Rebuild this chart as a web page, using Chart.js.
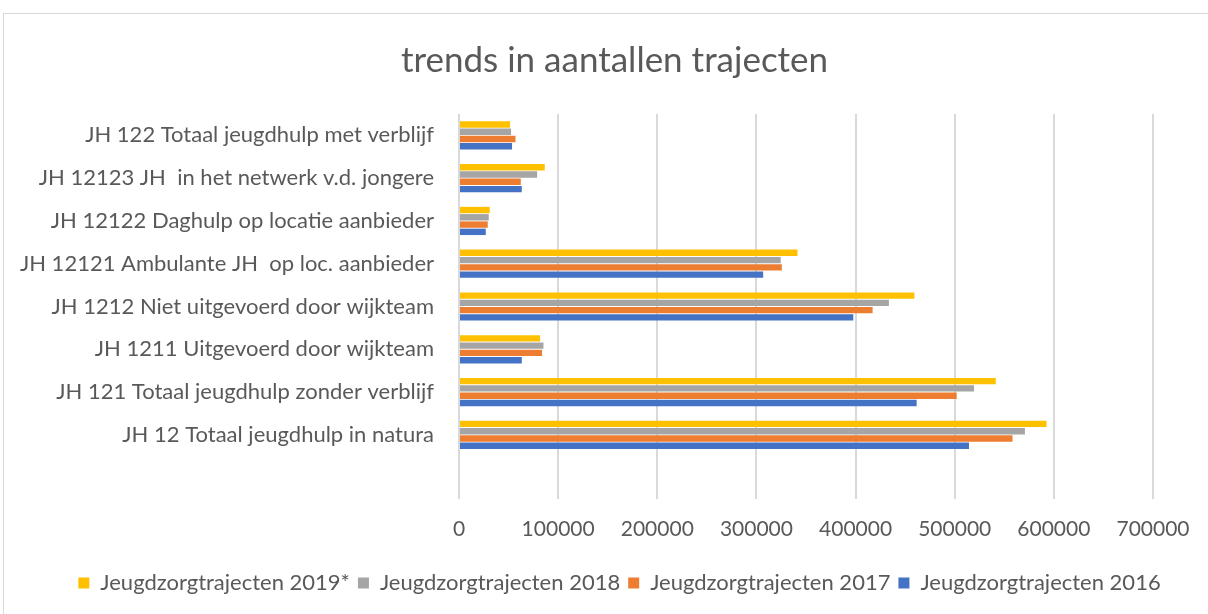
<!DOCTYPE html>
<html>
<head>
<meta charset="utf-8">
<title>trends in aantallen trajecten</title>
<script src="https://cdn.jsdelivr.net/npm/chart.js@4.4.1/dist/chart.umd.min.js"></script>
<style>
    html, body { margin: 0; padding: 0; background: #fff; }
    #wrap { position: relative; width: 1208px; height: 614px; overflow: hidden; }
    #frame { position: absolute; left: 3px; top: 13px; width: 1300px; height: 700px; border: 1px solid #d9d9d9; box-sizing: border-box; }
    #trendChart { position: absolute; left: 0; top: 0; }
</style>
</head>
<body>
<div id="wrap">
    <div id="frame"></div>
    <canvas id="trendChart" width="1208" height="614"></canvas>
</div>
<script>
// categories, top to bottom (last one is the empty row Excel leaves at the bottom)
const categories = [
    'JH 122 Totaal jeugdhulp met verblijf',
    'JH 12123 JH  in het netwerk v.d. jongere',
    'JH 12122 Daghulp op locatie aanbieder',
    'JH 12121 Ambulante JH  op loc. aanbieder',
    'JH 1212 Niet uitgevoerd door wijkteam',
    'JH 1211 Uitgevoerd door wijkteam',
    'JH 121 Totaal jeugdhulp zonder verblijf',
    'JH 12 Totaal jeugdhulp in natura',
    ''
];

const seriesNames = ['Jeugdzorgtrajecten 2019*', 'Jeugdzorgtrajecten 2018', 'Jeugdzorgtrajecten 2017', 'Jeugdzorgtrajecten 2016'];

const trajecten2019 = [51500, 86500, 31000, 341400, 459300, 81800, 541400, 592600, null];
const trajecten2018 = [52500, 78800, 30000, 324500, 433600, 85200, 519500, 570800, null];
const trajecten2017 = [57000, 62300, 29000, 325600, 417200, 83800, 502000, 558300, null];
const trajecten2016 = [53500, 63300, 27000, 306800, 397700, 63300, 461600, 514400, null];

const xTicks = [0, 100000, 200000, 300000, 400000, 500000, 600000, 700000];

const seriesColors = ['#FFC000', '#A5A5A5', '#ED7D31', '#4472C4'];

// Excel centres title and legend on the whole chart frame, not on the
// padded area Chart.js uses, so nudge those two boxes to the right
const shiftBoxes = {
    id: 'shiftBoxes',
    afterLayout(chart) {
        const moves = [[chart.titleBlock, 28], [chart.legend, 33]];
        moves.forEach(([box, dx]) => {
            if (!box) return;
            box.left += dx;
            box.right += dx;
        });
    }
};

const TrendChart = {
    chart: null,
    textColor: '#595959',
    fontFamily: 'Lato, "Open Sans", sans-serif',

    init() {
        const ctx = document.getElementById('trendChart').getContext('2d');
        const values = [trajecten2019, trajecten2018, trajecten2017, trajecten2016];

        this.chart = new Chart(ctx, {
            type: 'bar',
            data: {
                labels: categories,
                datasets: values.map((data, i) => ({
                    label: seriesNames[i],
                    data: data,
                    backgroundColor: seriesColors[i],
                    borderWidth: 0,
                    categoryPercentage: 0.68,
                    barPercentage: 0.88
                }))
            },
            options: this.buildOptions(),
            plugins: [shiftBoxes]
        });
    },

    buildOptions() {
        return {
            indexAxis: 'y',
            responsive: false,
            animation: false,
            layout: {
                padding: { top: 0, right: 55, bottom: 10, left: 20 }
            },
            plugins: {
                title: {
                    display: true,
                    text: 'trends in aantallen trajecten',
                    color: this.textColor,
                    font: { family: this.fontFamily, size: 35, weight: 'normal' },
                    padding: { top: 40, bottom: 32 }
                },
                legend: {
                    position: 'bottom',
                    labels: {
                        color: this.textColor,
                        font: { family: this.fontFamily, size: 22 },
                        boxWidth: 11,
                        boxHeight: 11,
                        padding: 8
                    }
                },
                tooltip: { enabled: false }
            },
            scales: {
                x: {
                    min: 0,
                    max: 700000,
                    afterBuildTicks: (scale) => {
                        scale.ticks = xTicks.map(v => ({ value: v }));
                    },
                    afterFit: (scale) => { scale.height = 65; },
                    grid: {
                        color: '#d9d9d9',
                        lineWidth: 2,
                        drawTicks: false
                    },
                    border: { display: false },
                    ticks: {
                        color: this.textColor,
                        font: { family: this.fontFamily, size: 21 },
                        padding: 18,
                        callback: (v) => String(v)
                    }
                },
                y: {
                    afterFit: (scale) => { scale.width = 439; },
                    grid: { display: false },
                    border: { display: false },
                    ticks: {
                        color: this.textColor,
                        font: { family: this.fontFamily, size: 22 },
                        padding: 17,
                        autoSkip: false
                    }
                }
            }
        };
    }
};

TrendChart.init();
</script>
</body>
</html>
